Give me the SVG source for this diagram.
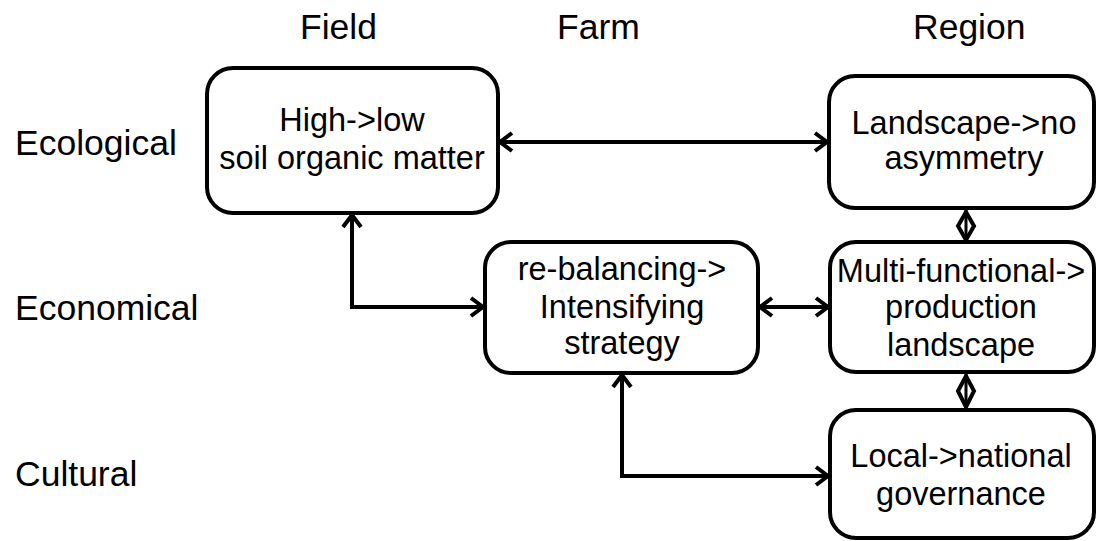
<svg xmlns="http://www.w3.org/2000/svg" width="1097" height="541" viewBox="0 0 1097 541">
<style>
.box{fill:#fff;stroke:#000;stroke-width:4}
.lbl{font-family:"Liberation Sans",Arial,sans-serif;font-size:35.5px;fill:#000}
.t{font-family:"Liberation Sans",Arial,sans-serif;font-size:32.5px;fill:#000;text-anchor:middle}
.c{fill:none;stroke:#000;stroke-width:4}
.dia{fill:#fff;stroke:#000;stroke-width:4;stroke-linejoin:miter}
</style>
<defs>
<marker id="ah" markerUnits="userSpaceOnUse" viewBox="-14 -11 16 22" refX="0" refY="0" markerWidth="16" markerHeight="22" orient="auto-start-reverse">
<path d="M-12,-9 L0,0 L-12,9" fill="none" stroke="#000" stroke-width="4"/>
</marker>
</defs>
<g id="headers">
<text class="lbl" x="300" y="39">Field</text>
<text class="lbl" x="557" y="39">Farm</text>
<text class="lbl" x="913" y="39">Region</text>
<text class="lbl" x="15" y="155">Ecological</text>
<text class="lbl" x="15" y="320">Economical</text>
<text class="lbl" x="15" y="486">Cultural</text>
</g>
<g id="connectors">
<line class="c" x1="500" y1="142" x2="827" y2="142" marker-start="url(#ah)" marker-end="url(#ah)"/>
<polyline class="c" points="352,215 352,307 483,307" marker-start="url(#ah)" marker-end="url(#ah)"/>
<line class="c" x1="760" y1="307" x2="828" y2="307" marker-start="url(#ah)" marker-end="url(#ah)"/>
<polyline class="c" points="622,375 622,476 828,476" marker-start="url(#ah)" marker-end="url(#ah)"/>
<g id="link-eco-econ">
<path class="dia" d="M966,212 L974,226 L966,240 L958,226 Z"/>
<line x1="966" y1="208" x2="966" y2="242" stroke="#000" stroke-width="3"/>
</g>
<g id="link-econ-cult">
<path class="dia" d="M966,376 L974,391 L966,407 L958,391 Z"/>
<line x1="966" y1="372" x2="966" y2="410" stroke="#000" stroke-width="3"/>
</g>
</g>
<g id="field-eco">
<rect class="box" x="207" y="68" width="291" height="145" rx="26"/>
<text class="t" x="352" y="131">High-&gt;low</text>
<text class="t" x="352" y="169">soil organic matter</text>
</g>
<g id="region-eco">
<rect class="box" x="829" y="76" width="265" height="132" rx="26"/>
<text class="t" x="964" y="134">Landscape-&gt;no</text>
<text class="t" x="964" y="169">asymmetry</text>
</g>
<g id="farm-econ">
<rect class="box" x="485" y="242" width="273" height="131" rx="26"/>
<text class="t" x="622" y="280">re-balancing-&gt;</text>
<text class="t" x="622" y="318">Intensifying</text>
<text class="t" x="622" y="354">strategy</text>
</g>
<g id="region-econ">
<rect class="box" x="830" y="242" width="264" height="130" rx="26"/>
<text class="t" x="961" y="282">Multi-functional-&gt;</text>
<text class="t" x="961" y="318">production</text>
<text class="t" x="961" y="356">landscape</text>
</g>
<g id="region-cult">
<rect class="box" x="830" y="410" width="264" height="128" rx="26"/>
<text class="t" x="961" y="467">Local-&gt;national</text>
<text class="t" x="961" y="505">governance</text>
</g>
</svg>
